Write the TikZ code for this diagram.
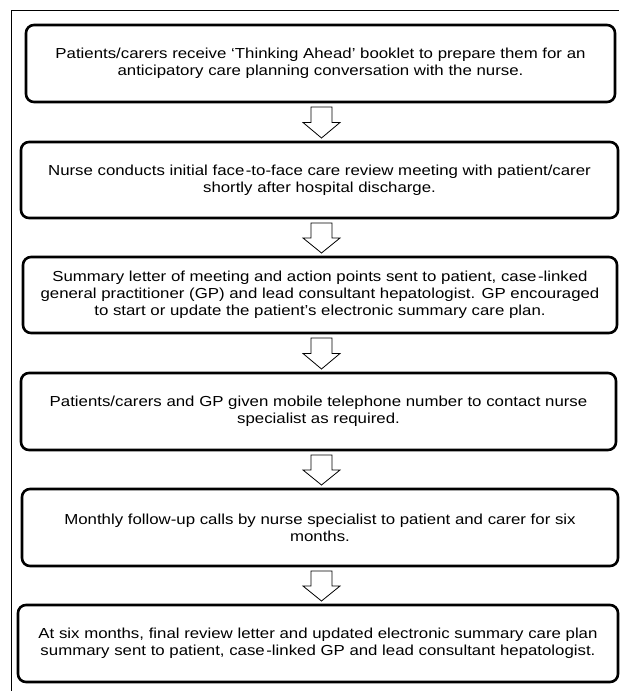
\documentclass[tikz,border=0pt]{standalone}
\usepackage{fontspec}
\setmainfont{Liberation Sans}[FakeStretch=1.16]
\usetikzlibrary{calc}
\begin{document}
\begin{tikzpicture}[x=1pt,y=-1pt,
  stepbox/.style={draw, line width=2.6pt, rounded corners=8pt, outer sep=0pt, inner sep=0pt,
    align=center, font=\fontsize{14.5}{17.2}\selectfont},
  flowarrow/.style={draw, line width=0.8pt, fill=white, line join=miter},
  framestyle/.style={line width=0.8pt}]
\useasboundingbox (0,0) rectangle (619,691);
\draw[framestyle] (11,691) -- (11,10) -- (619,10);

\node[stepbox, minimum width=589pt, minimum height=77pt] (b1) at (320.5,63.5)
  {Patients/carers receive ‘Thinking Ahead’ booklet to prepare them for an\\anticipatory care planning conversation with the nurse.};
\node[stepbox, minimum width=597pt, minimum height=76pt] (b2) at (319.5,180)
  {Nurse conducts initial face\kern1.5pt-to-face care review meeting with patient/carer\\shortly after hospital discharge.};
\node[stepbox, minimum width=594pt, minimum height=76pt] (b3) at (320,295)
  {Summary letter of meeting and action points sent to patient, case\kern1.5pt-linked\\general practitioner (GP) and lead consultant hepatologist. GP encouraged\\to start or update the patient’s electronic summary care plan.};
\node[stepbox, minimum width=595pt, minimum height=77pt] (b4) at (318.5,411.5)
  {Patients/carers and GP given mobile telephone number to contact nurse\\specialist as required.};
\node[stepbox, minimum width=596pt, minimum height=77pt] (b5) at (320,527.5)
  {Monthly follow-up calls by nurse specialist to patient and carer for six\\months.};
\node[stepbox, minimum width=600pt, minimum height=77pt] (b6) at (318,643.5)
  {At six months, final review letter and updated electronic summary care plan\\summary sent to patient, case\kern1.5pt-linked GP and lead consultant hepatologist.};

\foreach \a/\b in {b1/b2,b2/b3,b3/b4,b4/b5,b5/b6}{
  \path[flowarrow] let \p1=(\a.south), \p2=(\b.north), \n1={(\y1+\y2-1pt)/2} in
    (311pt,\y1-5pt) -- (332pt,\y1-5pt) -- (332pt,\n1) -- (340pt,\n1)
    -- (321.5pt,\y2+4pt) -- (303pt,\n1) -- (311pt,\n1) -- cycle;
}
\end{tikzpicture}
\end{document}
